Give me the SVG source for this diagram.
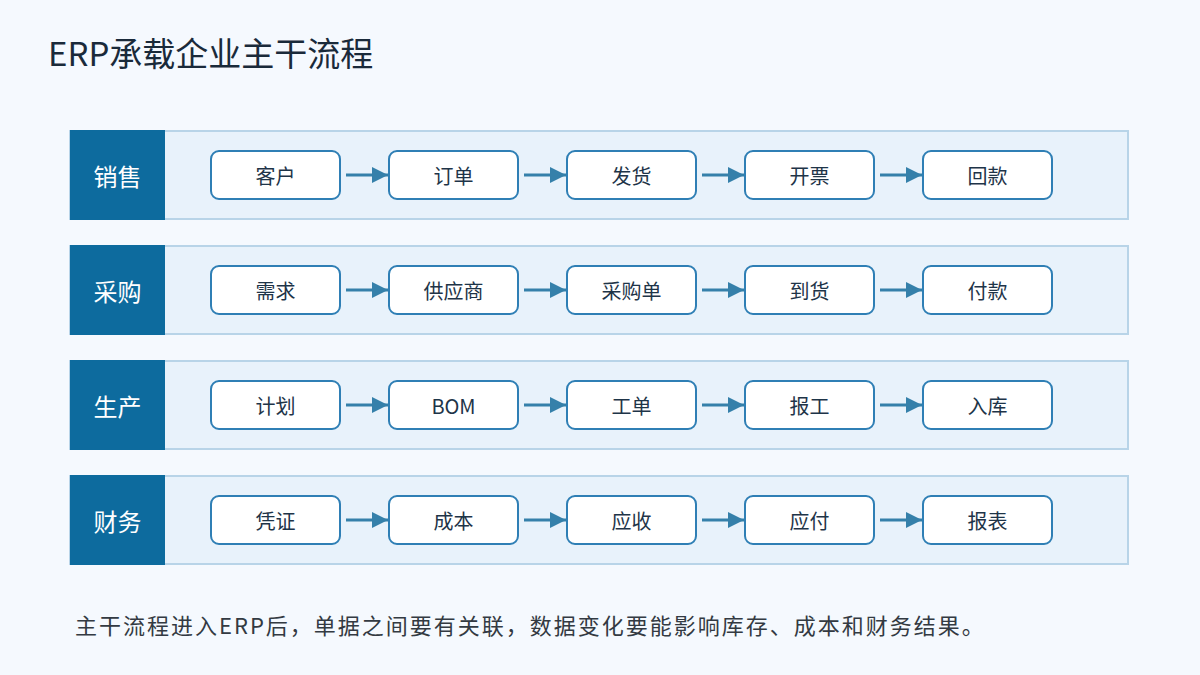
<svg xmlns="http://www.w3.org/2000/svg" width="1200" height="675" viewBox="0 0 1200 675">
<defs>
<style>
text{font-family:"Noto Sans CJK SC","Noto Sans",sans-serif}
.band{fill:#e8f2fb;stroke:#b8d4e8;stroke-width:2}
.lab{fill:#0d6b9e}
.labt{fill:#ffffff;font-size:24px;text-anchor:middle;dominant-baseline:central}
.box{fill:#ffffff;stroke:#2f7fb5;stroke-width:2}
.bt{fill:#1e3448;font-size:20px;text-anchor:middle;dominant-baseline:central}
.conn line{stroke:#3580aa;stroke-width:3}
</style>
<marker id="ah" viewBox="0 0 16 16" refX="16" refY="8" markerWidth="16" markerHeight="16" markerUnits="userSpaceOnUse" orient="auto">
<path d="M0,0 L16,8 L0,16 Z" fill="#3580aa"/>
</marker>
</defs>
<rect x="0" y="0" width="1200" height="675" fill="#f5f9fe"/>
<text x="48" y="66" font-size="33" fill="#1a2a3a">ERP承载企业主干流程</text>

<g id="row-sales">
<rect class="band" x="70" y="131" width="1058" height="88"/>
<rect class="lab" x="70" y="130" width="95" height="90"/>
<text class="labt" x="117.5" y="175">销售</text>
</g>
<g id="row-purchase">
<rect class="band" x="70" y="246" width="1058" height="88"/>
<rect class="lab" x="70" y="245" width="95" height="90"/>
<text class="labt" x="117.5" y="290">采购</text>
</g>
<g id="row-production">
<rect class="band" x="70" y="361" width="1058" height="88"/>
<rect class="lab" x="70" y="360" width="95" height="90"/>
<text class="labt" x="117.5" y="405">生产</text>
</g>
<g id="row-finance">
<rect class="band" x="70" y="476" width="1058" height="88"/>
<rect class="lab" x="70" y="475" width="95" height="90"/>
<text class="labt" x="117.5" y="520">财务</text>
</g>

<g id="n-s1"><rect class="box" x="211" y="151" width="129" height="48" rx="8"/><text class="bt" x="275.5" y="175">客户</text></g>
<g id="n-s2"><rect class="box" x="389" y="151" width="129" height="48" rx="8"/><text class="bt" x="453.5" y="175">订单</text></g>
<g id="n-s3"><rect class="box" x="567" y="151" width="129" height="48" rx="8"/><text class="bt" x="631.5" y="175">发货</text></g>
<g id="n-s4"><rect class="box" x="745" y="151" width="129" height="48" rx="8"/><text class="bt" x="809.5" y="175">开票</text></g>
<g id="n-s5"><rect class="box" x="923" y="151" width="129" height="48" rx="8"/><text class="bt" x="987.5" y="175">回款</text></g>

<g id="n-p1"><rect class="box" x="211" y="266" width="129" height="48" rx="8"/><text class="bt" x="275.5" y="290">需求</text></g>
<g id="n-p2"><rect class="box" x="389" y="266" width="129" height="48" rx="8"/><text class="bt" x="453.5" y="290">供应商</text></g>
<g id="n-p3"><rect class="box" x="567" y="266" width="129" height="48" rx="8"/><text class="bt" x="631.5" y="290">采购单</text></g>
<g id="n-p4"><rect class="box" x="745" y="266" width="129" height="48" rx="8"/><text class="bt" x="809.5" y="290">到货</text></g>
<g id="n-p5"><rect class="box" x="923" y="266" width="129" height="48" rx="8"/><text class="bt" x="987.5" y="290">付款</text></g>

<g id="n-m1"><rect class="box" x="211" y="381" width="129" height="48" rx="8"/><text class="bt" x="275.5" y="405">计划</text></g>
<g id="n-m2"><rect class="box" x="389" y="381" width="129" height="48" rx="8"/><text class="bt" x="453.5" y="405">BOM</text></g>
<g id="n-m3"><rect class="box" x="567" y="381" width="129" height="48" rx="8"/><text class="bt" x="631.5" y="405">工单</text></g>
<g id="n-m4"><rect class="box" x="745" y="381" width="129" height="48" rx="8"/><text class="bt" x="809.5" y="405">报工</text></g>
<g id="n-m5"><rect class="box" x="923" y="381" width="129" height="48" rx="8"/><text class="bt" x="987.5" y="405">入库</text></g>

<g id="n-f1"><rect class="box" x="211" y="496" width="129" height="48" rx="8"/><text class="bt" x="275.5" y="520">凭证</text></g>
<g id="n-f2"><rect class="box" x="389" y="496" width="129" height="48" rx="8"/><text class="bt" x="453.5" y="520">成本</text></g>
<g id="n-f3"><rect class="box" x="567" y="496" width="129" height="48" rx="8"/><text class="bt" x="631.5" y="520">应收</text></g>
<g id="n-f4"><rect class="box" x="745" y="496" width="129" height="48" rx="8"/><text class="bt" x="809.5" y="520">应付</text></g>
<g id="n-f5"><rect class="box" x="923" y="496" width="129" height="48" rx="8"/><text class="bt" x="987.5" y="520">报表</text></g>

<g id="connectors" class="conn">
<line x1="346" y1="175" x2="388" y2="175" marker-end="url(#ah)"/>
<line x1="524" y1="175" x2="566" y2="175" marker-end="url(#ah)"/>
<line x1="702" y1="175" x2="744" y2="175" marker-end="url(#ah)"/>
<line x1="880" y1="175" x2="922" y2="175" marker-end="url(#ah)"/>
<line x1="346" y1="290" x2="388" y2="290" marker-end="url(#ah)"/>
<line x1="524" y1="290" x2="566" y2="290" marker-end="url(#ah)"/>
<line x1="702" y1="290" x2="744" y2="290" marker-end="url(#ah)"/>
<line x1="880" y1="290" x2="922" y2="290" marker-end="url(#ah)"/>
<line x1="346" y1="405" x2="388" y2="405" marker-end="url(#ah)"/>
<line x1="524" y1="405" x2="566" y2="405" marker-end="url(#ah)"/>
<line x1="702" y1="405" x2="744" y2="405" marker-end="url(#ah)"/>
<line x1="880" y1="405" x2="922" y2="405" marker-end="url(#ah)"/>
<line x1="346" y1="520" x2="388" y2="520" marker-end="url(#ah)"/>
<line x1="524" y1="520" x2="566" y2="520" marker-end="url(#ah)"/>
<line x1="702" y1="520" x2="744" y2="520" marker-end="url(#ah)"/>
<line x1="880" y1="520" x2="922" y2="520" marker-end="url(#ah)"/>
</g>

<text x="75" y="634" font-size="22" fill="#333a42" letter-spacing="2">主干流程进入ERP后，单据之间要有关联，数据变化要能影响库存、成本和财务结果。</text>
</svg>
